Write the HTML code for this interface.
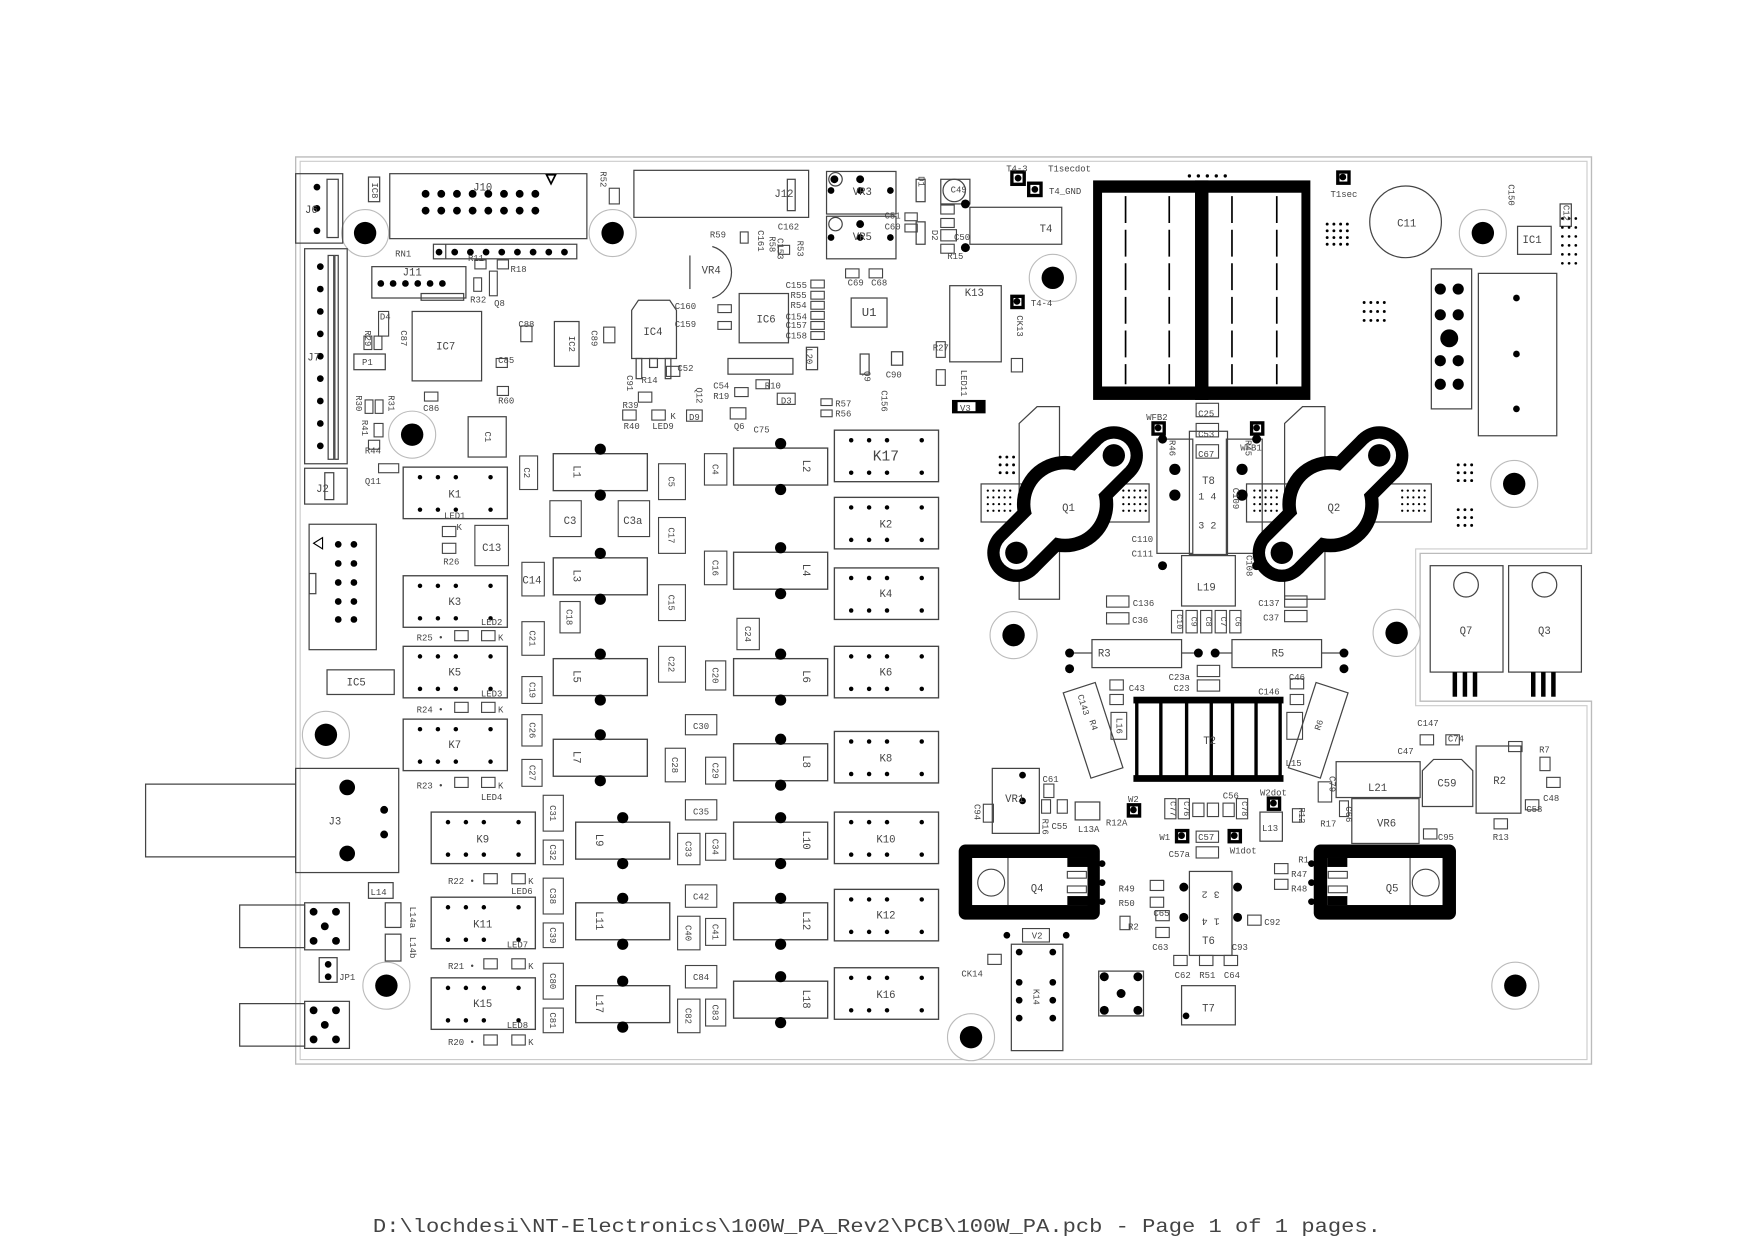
<!DOCTYPE html>
<html><head><meta charset="utf-8"><style>
html,body{margin:0;padding:0;background:#fff;}
svg{display:block;}
text{font-family:"Liberation Mono",monospace;fill:#444;}
</style></head><body>
<svg width="1755" height="1240" viewBox="0 0 1567 1107" xmlns="http://www.w3.org/2000/svg">
<defs>
<g id="relay"><rect x="0" y="0" width="93" height="46" fill="#fff" stroke="#444" stroke-width="1.2"/>
<g fill="#000"><circle cx="15" cy="9" r="2"/><circle cx="31" cy="9" r="2"/><circle cx="47" cy="9" r="2"/><circle cx="78" cy="9" r="2"/><circle cx="15" cy="38" r="2"/><circle cx="31" cy="38" r="2"/><circle cx="47" cy="38" r="2"/><circle cx="78" cy="38" r="2"/></g></g>
<g id="ind"><rect x="0" y="0" width="84" height="33" fill="#fff" stroke="#444" stroke-width="1.2"/><circle cx="42" cy="-4" r="5" fill="#000"/><circle cx="42" cy="37" r="5" fill="#000"/></g>
<g id="hole"><circle r="21" fill="#fff" stroke="#bbb" stroke-width="1"/><circle r="10" fill="#000"/></g>
<g id="qring">
<line x1="-43.5" y1="43.5" x2="43.5" y2="-43.5" stroke="#000" stroke-width="52"/>
<circle r="43" fill="#000"/><circle cx="43.5" cy="-43.5" r="26" fill="#000"/><circle cx="-43.5" cy="43.5" r="26" fill="#000"/>
<line x1="-43.5" y1="43.5" x2="43.5" y2="-43.5" stroke="#fff" stroke-width="30"/>
<circle r="31" fill="#fff"/><circle cx="43.5" cy="-43.5" r="15" fill="#fff"/><circle cx="-43.5" cy="43.5" r="15" fill="#fff"/>
<circle cx="43.5" cy="-43.5" r="10" fill="#000"/><circle cx="-43.5" cy="43.5" r="10" fill="#000"/>
</g>
</defs>
<rect width="1567" height="1107" fill="#fff"/>
<!-- board outline -->
<path d="M264 140 H1421 V494 H1268 V626 H1421 V950 H264 Z" fill="none" stroke="#bbb" stroke-width="1.2"/>
<path d="M268 144 H1417 V490 H1264 V630 H1417 V946 H268 Z" fill="none" stroke="#ccc" stroke-width="1"/>
<!-- holes -->
<use href="#hole" x="326" y="208"/><use href="#hole" x="547" y="208"/><use href="#hole" x="368" y="388"/><use href="#hole" x="291" y="656"/><use href="#hole" x="345" y="880"/><use href="#hole" x="867" y="926"/><use href="#hole" x="905" y="567"/><use href="#hole" x="940" y="248"/><use href="#hole" x="1247" y="565"/><use href="#hole" x="1324" y="208"/><use href="#hole" x="1352" y="432"/><use href="#hole" x="1353" y="880"/>
<g fill="none" stroke="#444" stroke-width="1.1">
<rect x="264" y="155" width="42" height="62"/><rect x="292" y="160" width="10" height="52"/>
<rect x="272" y="222" width="38" height="192"/><rect x="293" y="228" width="5" height="182"/><rect x="299" y="228" width="3" height="182"/>
<rect x="272" y="418" width="38" height="32"/><rect x="290" y="422" width="8" height="24"/>
<rect x="276" y="468" width="60" height="112"/><rect x="276" y="512" width="6" height="18"/>
<rect x="264" y="686" width="92" height="93"/>
<path d="M264 700 H130 V765 H264"/>
<path d="M214 808 H272 V846 H214 Z"/><rect x="272" y="806" width="40" height="42"/>
<path d="M214 896 H272 V934 H214 Z"/><rect x="272" y="894" width="40" height="42"/>
<rect x="285" y="855" width="16" height="22"/>
<rect x="329" y="788" width="22" height="14"/><rect x="344" y="806" width="14" height="22"/><rect x="344" y="834" width="14" height="24"/>
<rect x="329" y="158" width="10" height="22"/>
<rect x="348" y="155" width="176" height="58"/>
<rect x="387" y="218" width="128" height="13"/><line x1="398" y1="218" x2="398" y2="231"/>
<rect x="332" y="238" width="84" height="28"/><rect x="376" y="262" width="38" height="6"/>
<rect x="368" y="278" width="62" height="62"/>
<rect x="316" y="316" width="28" height="14"/>
<rect x="292" y="598" width="60" height="22"/>
<rect x="418" y="372" width="34" height="36"/>
<rect x="566" y="152" width="156" height="42"/><rect x="703" y="160" width="7" height="28"/>
<rect x="495" y="287" width="22" height="40"/>
<path d="M564 277 L570 268 H598 L604 277 V320 H564 Z"/><rect x="568" y="320" width="5" height="18"/><rect x="594" y="320" width="5" height="18"/><rect x="580" y="320" width="7" height="8"/>
<path d="M636 220 A24 24 0 0 1 636 266"/><path d="M616 228 V258"/>
<rect x="660" y="262" width="44" height="44"/>
<rect x="650" y="320" width="58" height="14"/>
<rect x="760" y="266" width="32" height="26"/>
<rect x="738" y="153" width="62" height="38"/><rect x="738" y="193" width="62" height="38"/>
<circle cx="746" cy="160" r="6"/><circle cx="746" cy="200" r="6"/>
<rect x="818" y="160" width="8" height="20"/><rect x="818" y="198" width="8" height="20"/>
<circle cx="852" cy="170" r="10"/><rect x="840" y="160" width="26" height="22"/>
<rect x="866" y="185" width="82" height="33"/>
<rect x="848" y="255" width="46" height="68"/>
<rect x="720" y="310" width="10" height="20"/><rect x="768" y="316" width="8" height="18"/><rect x="796" y="314" width="10" height="12"/>
<circle cx="1255" cy="198" r="32"/>
<rect x="1355" y="202" width="30" height="25"/><rect x="1393" y="182" width="10" height="20"/>
<rect x="1278" y="240" width="36" height="125"/>
<rect x="1320" y="244" width="70" height="145"/>
<rect x="903" y="843" width="46" height="95"/>
<rect x="1055" y="880" width="48" height="35"/>
<rect x="981" y="867" width="40" height="40"/>
<rect x="886" y="686" width="42" height="58"/>
<rect x="1207" y="713" width="60" height="40"/>
<path d="M1270 688 L1280 678 H1305 L1315 688 V720 H1270 Z"/>
<rect x="1318" y="666" width="40" height="60"/>
<rect x="1193" y="680" width="75" height="32"/>
<rect x="1062" y="778" width="38" height="75"/>
<rect x="1062" y="385" width="34" height="110"/>
<rect x="1055" y="496" width="48" height="45"/>
<rect x="1125" y="725" width="20" height="26"/>
<rect x="960" y="716" width="22" height="16"/>
<rect x="1277" y="505" width="65" height="95"/><circle cx="1309" cy="522" r="11"/>
<rect x="1347" y="505" width="65" height="95"/><circle cx="1379" cy="522" r="11"/>
<rect x="975" y="571" width="80" height="25"/><rect x="1100" y="571" width="80" height="25"/>
<line x1="955" y1="583" x2="975" y2="583"/><line x1="1055" y1="583" x2="1070" y2="583"/><line x1="1085" y1="583" x2="1100" y2="583"/><line x1="1180" y1="583" x2="1200" y2="583"/>
<rect x="961" y="612" width="30" height="80" transform="rotate(-18 976 652)"/>
<rect x="1162" y="612" width="30" height="80" transform="rotate(18 1177 652)"/>
<!-- Q flanges -->
<path d="M910 378 L926 363 H946 V535 H910 Z"/><rect x="876" y="432" width="150" height="34"/>
<path d="M1147 378 L1163 363 H1183 V535 H1147 Z"/><rect x="1113" y="432" width="165" height="34"/>
<rect x="1033" y="392" width="32" height="102"/><rect x="1095" y="392" width="32" height="102"/>
</g>
<!-- transformer top -->
<rect x="976" y="161" width="194" height="196" fill="#000"/>
<rect x="984" y="172" width="178" height="173" fill="#fff"/>
<rect x="1067" y="161" width="12" height="196" fill="#000"/>
<g stroke="#000" stroke-width="1.5" stroke-dasharray="24,6"><line x1="1005" y1="175" x2="1005" y2="343"/><line x1="1044" y1="175" x2="1044" y2="343"/><line x1="1100" y1="175" x2="1100" y2="343"/><line x1="1140" y1="175" x2="1140" y2="343"/></g>
<!-- Q1 Q2 -->
<use href="#qring" x="951" y="450"/><use href="#qring" x="1188" y="450"/>
<!-- T2 -->
<rect x="1015" y="625" width="128" height="70" fill="none" stroke="#000" stroke-width="3"/>
<g fill="#000"><rect x="1012" y="622" width="134" height="6"/><rect x="1012" y="692" width="134" height="6"/><rect x="1035" y="625" width="3" height="70"/><rect x="1058" y="625" width="3" height="70"/><rect x="1080" y="625" width="3" height="70"/><rect x="1099" y="625" width="3" height="70"/><rect x="1120" y="625" width="3" height="70"/></g>
<!-- Q4 Q5 -->
<rect x="856" y="754" width="126" height="67" rx="6" fill="#000"/><rect x="868" y="766" width="103" height="42" fill="#fff"/>
<rect x="1173" y="754" width="127" height="67" rx="6" fill="#000"/><rect x="1185" y="766" width="103" height="42" fill="#fff"/>
<g fill="none" stroke="#444"><circle cx="885" cy="788" r="12"/><line x1="900" y1="766" x2="900" y2="808"/><circle cx="1273" cy="788" r="12"/><line x1="1259" y1="766" x2="1259" y2="808"/></g>
<g fill="#000"><rect x="953" y="766" width="18" height="8"/><rect x="953" y="800" width="18" height="8"/><rect x="1185" y="766" width="18" height="8"/><rect x="1185" y="800" width="18" height="8"/>
<circle cx="984" cy="771" r="3"/><circle cx="984" cy="788" r="3"/><circle cx="984" cy="805" r="3"/><circle cx="1171" cy="771" r="3"/><circle cx="1171" cy="788" r="3"/><circle cx="1171" cy="805" r="3"/></g>
<g fill="#fff" stroke="#444"><rect x="953" y="778" width="17" height="6"/><rect x="953" y="791" width="17" height="6"/><rect x="1186" y="778" width="17" height="6"/><rect x="1186" y="791" width="17" height="6"/></g>
<g fill="#000"><rect x="1297" y="600" width="4" height="22"/><rect x="1306" y="600" width="4" height="22"/><rect x="1315" y="600" width="4" height="22"/><rect x="1367" y="600" width="4" height="22"/><rect x="1376" y="600" width="4" height="22"/><rect x="1385" y="600" width="4" height="22"/></g>
<!-- relays -->
<use href="#relay" x="360" y="417"/><use href="#relay" x="360" y="514"/><use href="#relay" x="360" y="577"/><use href="#relay" x="360" y="642"/>
<use href="#relay" x="385" y="725"/><use href="#relay" x="385" y="801"/><use href="#relay" x="385" y="873"/>
<use href="#relay" x="745" y="384"/><use href="#relay" x="745" y="444"/><use href="#relay" x="745" y="507"/><use href="#relay" x="745" y="577"/><use href="#relay" x="745" y="653"/><use href="#relay" x="745" y="725"/><use href="#relay" x="745" y="794"/><use href="#relay" x="745" y="864"/>
<!-- inductors -->
<use href="#ind" x="494" y="405"/><use href="#ind" x="655" y="400"/><use href="#ind" x="494" y="498"/><use href="#ind" x="655" y="493"/><use href="#ind" x="494" y="588"/><use href="#ind" x="655" y="588"/><use href="#ind" x="494" y="660"/><use href="#ind" x="655" y="664"/><use href="#ind" x="514" y="734"/><use href="#ind" x="655" y="734"/><use href="#ind" x="514" y="806"/><use href="#ind" x="655" y="806"/><use href="#ind" x="514" y="880"/><use href="#ind" x="655" y="876"/>
<!-- caps -->
<g fill="none" stroke="#444">
<rect x="464" y="407" width="16" height="30"/><rect x="491" y="447" width="28" height="32"/><rect x="552" y="447" width="28" height="32"/><rect x="588" y="414" width="24" height="32"/><rect x="629" y="405" width="20" height="28"/><rect x="588" y="462" width="24" height="32"/><rect x="424" y="469" width="30" height="36"/><rect x="466" y="502" width="20" height="30"/><rect x="629" y="492" width="20" height="30"/><rect x="588" y="522" width="24" height="32"/><rect x="500" y="537" width="18" height="28"/><rect x="466" y="555" width="20" height="30"/><rect x="658" y="552" width="20" height="28"/><rect x="588" y="577" width="24" height="32"/><rect x="630" y="590" width="18" height="26"/><rect x="466" y="604" width="18" height="24"/><rect x="466" y="638" width="18" height="28"/><rect x="466" y="678" width="18" height="24"/><rect x="612" y="638" width="28" height="18"/><rect x="594" y="668" width="18" height="30"/><rect x="630" y="676" width="18" height="24"/><rect x="485" y="710" width="18" height="32"/><rect x="485" y="750" width="18" height="22"/><rect x="612" y="714" width="28" height="18"/><rect x="605" y="744" width="20" height="28"/><rect x="630" y="744" width="18" height="24"/><rect x="485" y="784" width="18" height="32"/><rect x="485" y="824" width="18" height="22"/><rect x="612" y="790" width="28" height="20"/><rect x="605" y="818" width="20" height="30"/><rect x="630" y="820" width="18" height="24"/><rect x="485" y="860" width="18" height="32"/><rect x="485" y="900" width="18" height="22"/><rect x="612" y="862" width="28" height="20"/><rect x="605" y="892" width="20" height="30"/><rect x="630" y="892" width="18" height="24"/>
<rect x="395" y="470" width="12" height="9"/><rect x="395" y="485" width="12" height="9"/>
<rect x="406" y="563" width="12" height="9"/><rect x="430" y="563" width="12" height="9"/><rect x="406" y="627" width="12" height="9"/><rect x="430" y="627" width="12" height="9"/><rect x="406" y="694" width="12" height="9"/><rect x="430" y="694" width="12" height="9"/><rect x="432" y="780" width="12" height="9"/><rect x="457" y="780" width="12" height="9"/><rect x="432" y="856" width="12" height="9"/><rect x="457" y="856" width="12" height="9"/><rect x="432" y="924" width="12" height="9"/><rect x="457" y="924" width="12" height="9"/>
<rect x="1068" y="360" width="20" height="12"/><rect x="1068" y="378" width="20" height="12"/><rect x="1068" y="397" width="20" height="12"/>
<rect x="988" y="532" width="20" height="10"/><rect x="988" y="547" width="20" height="10"/><rect x="1147" y="532" width="20" height="10"/><rect x="1147" y="545" width="20" height="10"/>
<rect x="1046" y="545" width="10" height="20"/><rect x="1059" y="545" width="10" height="20"/><rect x="1072" y="545" width="10" height="20"/><rect x="1085" y="545" width="10" height="20"/><rect x="1098" y="545" width="10" height="20"/>
<rect x="1069" y="594" width="20" height="10"/><rect x="1069" y="607" width="20" height="10"/>
<rect x="991" y="607" width="12" height="9"/><rect x="991" y="620" width="12" height="9"/><rect x="1152" y="606" width="12" height="9"/><rect x="1152" y="620" width="12" height="9"/>
<rect x="1149" y="636" width="14" height="24"/><rect x="992" y="636" width="14" height="24"/>
<rect x="1040" y="713" width="10" height="18"/><rect x="1052" y="713" width="10" height="18"/><rect x="1065" y="717" width="10" height="12"/><rect x="1078" y="717" width="10" height="12"/><rect x="1092" y="717" width="10" height="12"/><rect x="1104" y="713" width="10" height="18"/>
<rect x="1068" y="742" width="20" height="10"/><rect x="1068" y="756" width="20" height="10"/>
<rect x="1177" y="698" width="12" height="18"/><rect x="1154" y="722" width="8" height="12"/>
<rect x="1114" y="817" width="12" height="9"/><rect x="1048" y="853" width="12" height="9"/><rect x="1071" y="853" width="12" height="9"/><rect x="1093" y="853" width="12" height="9"/>
<rect x="1032" y="813" width="12" height="9"/><rect x="1032" y="828" width="12" height="9"/><rect x="1027" y="786" width="12" height="9"/><rect x="1027" y="801" width="12" height="9"/><rect x="1000" y="818" width="9" height="12"/>
<rect x="1138" y="771" width="12" height="9"/><rect x="1138" y="785" width="12" height="9"/>
<rect x="932" y="700" width="9" height="12"/><rect x="944" y="714" width="9" height="12"/><rect x="930" y="714" width="8" height="12"/><rect x="878" y="718" width="9" height="16"/>
<rect x="882" y="852" width="12" height="9"/><rect x="913" y="829" width="24" height="12"/>
<rect x="1268" y="656" width="12" height="9"/><rect x="1291" y="656" width="12" height="9"/><rect x="1347" y="662" width="12" height="9"/><rect x="1375" y="676" width="9" height="12"/><rect x="1381" y="694" width="12" height="9"/><rect x="1362" y="714" width="12" height="9"/><rect x="1334" y="731" width="12" height="9"/><rect x="1271" y="740" width="12" height="9"/><rect x="1196" y="715" width="8" height="14"/>
<rect x="755" y="240" width="12" height="8"/><rect x="776" y="240" width="12" height="8"/>
<rect x="808" y="190" width="11" height="7"/><rect x="808" y="200" width="11" height="7"/><rect x="840" y="183" width="12" height="8"/><rect x="840" y="195" width="12" height="8"/><rect x="840" y="205" width="14" height="10"/><rect x="840" y="218" width="12" height="8"/>
<rect x="724" y="250" width="12" height="7"/><rect x="724" y="260" width="12" height="7"/><rect x="724" y="269" width="12" height="7"/><rect x="724" y="278" width="12" height="7"/><rect x="724" y="287" width="12" height="7"/><rect x="724" y="296" width="12" height="7"/>
<rect x="641" y="272" width="12" height="7"/><rect x="641" y="287" width="12" height="7"/><rect x="695" y="219" width="10" height="8"/><rect x="656" y="346" width="12" height="8"/><rect x="675" y="339" width="12" height="8"/><rect x="694" y="351" width="16" height="10"/><rect x="613" y="366" width="14" height="10"/><rect x="652" y="364" width="14" height="10"/><rect x="733" y="356" width="10" height="6"/><rect x="733" y="366" width="10" height="6"/>
<rect x="556" y="366" width="12" height="9"/><rect x="582" y="366" width="12" height="9"/><rect x="570" y="350" width="12" height="9"/><rect x="595" y="327" width="12" height="9"/>
<rect x="539" y="292" width="10" height="14"/><rect x="444" y="345" width="10" height="8"/><rect x="379" y="350" width="12" height="8"/><rect x="465" y="291" width="10" height="14"/><rect x="443" y="320" width="10" height="8"/>
<rect x="424" y="232" width="10" height="8"/><rect x="444" y="232" width="10" height="8"/><rect x="423" y="248" width="7" height="12"/><rect x="437" y="242" width="7" height="22"/>
<rect x="338" y="278" width="9" height="22"/><rect x="325" y="300" width="7" height="12"/><rect x="334" y="300" width="7" height="12"/>
<rect x="326" y="357" width="7" height="12"/><rect x="335" y="357" width="7" height="12"/><rect x="334" y="378" width="8" height="12"/><rect x="329" y="393" width="10" height="8"/><rect x="338" y="414" width="18" height="8"/>
<rect x="544" y="168" width="9" height="14"/><rect x="661" y="207" width="7" height="10"/>
<rect x="836" y="330" width="8" height="14"/><rect x="836" y="305" width="8" height="14"/><rect x="903" y="320" width="10" height="12"/>
</g>
<!-- small black pads -->
<g fill="#000">
<rect x="902" y="152" width="14" height="14"/><rect x="917" y="162" width="14" height="14"/><rect x="1193" y="152" width="13" height="13"/><rect x="902" y="263" width="13" height="13"/><rect x="1028" y="376" width="13" height="13"/><rect x="1116" y="376" width="13" height="13"/><rect x="1006" y="717" width="13" height="13"/><rect x="1131" y="711" width="13" height="13"/><rect x="1049" y="740" width="13" height="13"/><rect x="1096" y="740" width="13" height="13"/>
<rect x="850" y="357" width="30" height="12"/>
</g>
<g fill="#fff"><rect x="905" y="155" width="8" height="8"/><rect x="920" y="165" width="8" height="8"/><rect x="1196" y="155" width="7" height="7"/><rect x="905" y="266" width="7" height="7"/><rect x="1031" y="379" width="7" height="7"/><rect x="1119" y="379" width="7" height="7"/><rect x="1009" y="720" width="7" height="7"/><rect x="1134" y="714" width="7" height="7"/><rect x="1052" y="743" width="7" height="7"/><rect x="1099" y="743" width="7" height="7"/><rect x="855" y="359" width="16" height="8"/></g>
<g fill="#000"><circle cx="909" cy="159" r="3"/><circle cx="924" cy="169" r="3"/><circle cx="1199" cy="158" r="3"/><circle cx="908" cy="269" r="3"/><circle cx="1034" cy="382" r="3"/><circle cx="1122" cy="382" r="3"/><circle cx="1012" cy="723" r="3"/><circle cx="1137" cy="717" r="3"/><circle cx="1055" cy="746" r="3"/><circle cx="1102" cy="746" r="3"/></g>
<!-- big black dots -->
<g fill="#000">
<circle cx="380" cy="188" r="3.5"/><circle cx="394" cy="188" r="3.5"/><circle cx="408" cy="188" r="3.5"/><circle cx="422" cy="188" r="3.5"/><circle cx="436" cy="188" r="3.5"/><circle cx="450" cy="188" r="3.5"/><circle cx="464" cy="188" r="3.5"/><circle cx="478" cy="188" r="3.5"/>
<circle cx="380" cy="173" r="3.5"/><circle cx="394" cy="173" r="3.5"/><circle cx="408" cy="173" r="3.5"/><circle cx="422" cy="173" r="3.5"/><circle cx="436" cy="173" r="3.5"/><circle cx="450" cy="173" r="3.5"/><circle cx="464" cy="173" r="3.5"/><circle cx="478" cy="173" r="3.5"/>
<circle cx="392" cy="225" r="3"/><circle cx="406" cy="225" r="3"/><circle cx="420" cy="225" r="3"/><circle cx="434" cy="225" r="3"/><circle cx="448" cy="225" r="3"/><circle cx="462" cy="225" r="3"/><circle cx="476" cy="225" r="3"/><circle cx="490" cy="225" r="3"/><circle cx="504" cy="225" r="3"/>
<circle cx="340" cy="253" r="3"/><circle cx="351" cy="253" r="3"/><circle cx="362" cy="253" r="3"/><circle cx="373" cy="253" r="3"/><circle cx="384" cy="253" r="3"/><circle cx="395" cy="253" r="3"/>
<circle cx="283" cy="167" r="3"/><circle cx="283" cy="186" r="3"/><circle cx="283" cy="206" r="3"/>
<circle cx="286" cy="238" r="3"/><circle cx="286" cy="258" r="3"/><circle cx="286" cy="278" r="3"/><circle cx="286" cy="298" r="3"/><circle cx="286" cy="318" r="3"/><circle cx="286" cy="338" r="3"/><circle cx="286" cy="358" r="3"/><circle cx="286" cy="378" r="3"/><circle cx="286" cy="398" r="3"/>
<circle cx="302" cy="486" r="3"/><circle cx="316" cy="486" r="3"/><circle cx="302" cy="503" r="3"/><circle cx="316" cy="503" r="3"/><circle cx="302" cy="520" r="3"/><circle cx="316" cy="520" r="3"/><circle cx="302" cy="537" r="3"/><circle cx="316" cy="537" r="3"/><circle cx="302" cy="553" r="3"/><circle cx="316" cy="553" r="3"/>
<circle cx="310" cy="703" r="7"/><circle cx="310" cy="762" r="7"/><circle cx="343" cy="723" r="3.5"/><circle cx="343" cy="745" r="3.5"/>
<circle cx="280" cy="814" r="3.5"/><circle cx="300" cy="814" r="3.5"/><circle cx="290" cy="827" r="3.5"/><circle cx="280" cy="840" r="3.5"/><circle cx="300" cy="840" r="3.5"/>
<circle cx="280" cy="902" r="3.5"/><circle cx="300" cy="902" r="3.5"/><circle cx="290" cy="915" r="3.5"/><circle cx="280" cy="928" r="3.5"/><circle cx="300" cy="928" r="3.5"/>
<circle cx="293" cy="861" r="3"/><circle cx="293" cy="872" r="3"/>
<circle cx="745" cy="160" r="3.5"/><circle cx="742" cy="170" r="3"/><circle cx="768" cy="170" r="3"/><circle cx="795" cy="170" r="3"/><circle cx="768" cy="160" r="3.5"/>
<circle cx="742" cy="212" r="3"/><circle cx="768" cy="212" r="3"/><circle cx="795" cy="212" r="3"/><circle cx="768" cy="200" r="3.5"/>
<circle cx="862" cy="182" r="4"/><circle cx="862" cy="221" r="4"/>
<circle cx="1286" cy="258" r="5"/><circle cx="1302" cy="258" r="5"/><circle cx="1286" cy="281" r="5"/><circle cx="1302" cy="281" r="5"/><circle cx="1294" cy="302" r="8"/><circle cx="1286" cy="322" r="5"/><circle cx="1302" cy="322" r="5"/><circle cx="1286" cy="343" r="5"/><circle cx="1302" cy="343" r="5"/>
<circle cx="1354" cy="266" r="3"/><circle cx="1354" cy="316" r="3"/><circle cx="1354" cy="365" r="3"/>
<circle cx="1049" cy="419" r="5"/><circle cx="1049" cy="442" r="5"/><circle cx="1109" cy="419" r="5"/><circle cx="1109" cy="442" r="5"/>
<circle cx="1038" cy="392" r="4"/><circle cx="1122" cy="392" r="4"/><circle cx="1038" cy="505" r="4"/><circle cx="1122" cy="505" r="4"/>
<circle cx="955" cy="583" r="4"/><circle cx="1070" cy="583" r="4"/><circle cx="1085" cy="583" r="4"/><circle cx="1200" cy="583" r="4"/><circle cx="955" cy="597" r="4"/><circle cx="1200" cy="597" r="4"/>
<circle cx="1057" cy="792" r="4"/><circle cx="1105" cy="792" r="4"/><circle cx="1057" cy="819" r="4"/><circle cx="1105" cy="819" r="4"/>
<circle cx="986" cy="872" r="4"/><circle cx="1016" cy="872" r="4"/><circle cx="1001" cy="887" r="4"/><circle cx="986" cy="902" r="4"/><circle cx="1016" cy="902" r="4"/>
<circle cx="1059" cy="907" r="3"/>
<circle cx="910" cy="850" r="3"/><circle cx="940" cy="850" r="3"/><circle cx="910" cy="877" r="3"/><circle cx="940" cy="877" r="3"/><circle cx="910" cy="893" r="3"/><circle cx="940" cy="893" r="3"/><circle cx="910" cy="909" r="3"/><circle cx="940" cy="909" r="3"/>
<circle cx="899" cy="835" r="3"/><circle cx="952" cy="835" r="3"/>
<circle cx="913" cy="692" r="3"/><circle cx="913" cy="715" r="3"/>
<circle cx="1062" cy="157" r="1.5"/><circle cx="1070" cy="157" r="1.5"/><circle cx="1078" cy="157" r="1.5"/><circle cx="1086" cy="157" r="1.5"/><circle cx="1094" cy="157" r="1.5"/>
</g>
<!-- dotted pad arrays -->
<g fill="#000">
<g transform="translate(1185,200)"><circle cx="0" cy="0" r="1.3"/><circle cx="6" cy="0" r="1.3"/><circle cx="12" cy="0" r="1.3"/><circle cx="18" cy="0" r="1.3"/><circle cx="0" cy="6" r="1.3"/><circle cx="6" cy="6" r="1.3"/><circle cx="12" cy="6" r="1.3"/><circle cx="18" cy="6" r="1.3"/><circle cx="0" cy="12" r="1.3"/><circle cx="6" cy="12" r="1.3"/><circle cx="12" cy="12" r="1.3"/><circle cx="18" cy="12" r="1.3"/><circle cx="0" cy="18" r="1.3"/><circle cx="6" cy="18" r="1.3"/><circle cx="12" cy="18" r="1.3"/><circle cx="18" cy="18" r="1.3"/></g>
<g transform="translate(1218,270)"><circle cx="0" cy="0" r="1.3"/><circle cx="6" cy="0" r="1.3"/><circle cx="12" cy="0" r="1.3"/><circle cx="18" cy="0" r="1.3"/><circle cx="0" cy="8" r="1.3"/><circle cx="6" cy="8" r="1.3"/><circle cx="12" cy="8" r="1.3"/><circle cx="18" cy="8" r="1.3"/><circle cx="0" cy="16" r="1.3"/><circle cx="6" cy="16" r="1.3"/><circle cx="12" cy="16" r="1.3"/><circle cx="18" cy="16" r="1.3"/></g>
<g transform="translate(893,408)"><circle cx="0" cy="0" r="1.3"/><circle cx="6" cy="0" r="1.3"/><circle cx="12" cy="0" r="1.3"/><circle cx="0" cy="7" r="1.3"/><circle cx="6" cy="7" r="1.3"/><circle cx="12" cy="7" r="1.3"/><circle cx="0" cy="14" r="1.3"/><circle cx="6" cy="14" r="1.3"/><circle cx="12" cy="14" r="1.3"/></g>
<g transform="translate(1302,415)"><circle cx="0" cy="0" r="1.3"/><circle cx="6" cy="0" r="1.3"/><circle cx="12" cy="0" r="1.3"/><circle cx="0" cy="7" r="1.3"/><circle cx="6" cy="7" r="1.3"/><circle cx="12" cy="7" r="1.3"/><circle cx="0" cy="14" r="1.3"/><circle cx="6" cy="14" r="1.3"/><circle cx="12" cy="14" r="1.3"/></g>
<g transform="translate(1302,455)"><circle cx="0" cy="0" r="1.3"/><circle cx="6" cy="0" r="1.3"/><circle cx="12" cy="0" r="1.3"/><circle cx="0" cy="7" r="1.3"/><circle cx="6" cy="7" r="1.3"/><circle cx="12" cy="7" r="1.3"/><circle cx="0" cy="14" r="1.3"/><circle cx="6" cy="14" r="1.3"/><circle cx="12" cy="14" r="1.3"/></g>
<g transform="translate(1395,195)"><circle cx="0" cy="0" r="1.2"/><circle cx="6" cy="0" r="1.2"/><circle cx="12" cy="0" r="1.2"/><circle cx="0" cy="8" r="1.2"/><circle cx="6" cy="8" r="1.2"/><circle cx="12" cy="8" r="1.2"/><circle cx="0" cy="16" r="1.2"/><circle cx="6" cy="16" r="1.2"/><circle cx="12" cy="16" r="1.2"/><circle cx="0" cy="24" r="1.2"/><circle cx="6" cy="24" r="1.2"/><circle cx="12" cy="24" r="1.2"/><circle cx="0" cy="32" r="1.2"/><circle cx="6" cy="32" r="1.2"/><circle cx="12" cy="32" r="1.2"/><circle cx="0" cy="40" r="1.2"/><circle cx="6" cy="40" r="1.2"/><circle cx="12" cy="40" r="1.2"/></g>
<g transform="translate(882,438)"><circle cx="0" cy="0" r="1"/><circle cx="5" cy="0" r="1"/><circle cx="10" cy="0" r="1"/><circle cx="15" cy="0" r="1"/><circle cx="20" cy="0" r="1"/><circle cx="0" cy="6" r="1"/><circle cx="5" cy="6" r="1"/><circle cx="10" cy="6" r="1"/><circle cx="15" cy="6" r="1"/><circle cx="20" cy="6" r="1"/><circle cx="0" cy="12" r="1"/><circle cx="5" cy="12" r="1"/><circle cx="10" cy="12" r="1"/><circle cx="15" cy="12" r="1"/><circle cx="20" cy="12" r="1"/><circle cx="0" cy="18" r="1"/><circle cx="5" cy="18" r="1"/><circle cx="10" cy="18" r="1"/><circle cx="15" cy="18" r="1"/><circle cx="20" cy="18" r="1"/></g>
<g transform="translate(1003,438)"><circle cx="0" cy="0" r="1"/><circle cx="5" cy="0" r="1"/><circle cx="10" cy="0" r="1"/><circle cx="15" cy="0" r="1"/><circle cx="20" cy="0" r="1"/><circle cx="0" cy="6" r="1"/><circle cx="5" cy="6" r="1"/><circle cx="10" cy="6" r="1"/><circle cx="15" cy="6" r="1"/><circle cx="20" cy="6" r="1"/><circle cx="0" cy="12" r="1"/><circle cx="5" cy="12" r="1"/><circle cx="10" cy="12" r="1"/><circle cx="15" cy="12" r="1"/><circle cx="20" cy="12" r="1"/><circle cx="0" cy="18" r="1"/><circle cx="5" cy="18" r="1"/><circle cx="10" cy="18" r="1"/><circle cx="15" cy="18" r="1"/><circle cx="20" cy="18" r="1"/></g>
<g transform="translate(1120,438)"><circle cx="0" cy="0" r="1"/><circle cx="5" cy="0" r="1"/><circle cx="10" cy="0" r="1"/><circle cx="15" cy="0" r="1"/><circle cx="20" cy="0" r="1"/><circle cx="0" cy="6" r="1"/><circle cx="5" cy="6" r="1"/><circle cx="10" cy="6" r="1"/><circle cx="15" cy="6" r="1"/><circle cx="20" cy="6" r="1"/><circle cx="0" cy="12" r="1"/><circle cx="5" cy="12" r="1"/><circle cx="10" cy="12" r="1"/><circle cx="15" cy="12" r="1"/><circle cx="20" cy="12" r="1"/><circle cx="0" cy="18" r="1"/><circle cx="5" cy="18" r="1"/><circle cx="10" cy="18" r="1"/><circle cx="15" cy="18" r="1"/><circle cx="20" cy="18" r="1"/></g>
<g transform="translate(1252,438)"><circle cx="0" cy="0" r="1"/><circle cx="5" cy="0" r="1"/><circle cx="10" cy="0" r="1"/><circle cx="15" cy="0" r="1"/><circle cx="20" cy="0" r="1"/><circle cx="0" cy="6" r="1"/><circle cx="5" cy="6" r="1"/><circle cx="10" cy="6" r="1"/><circle cx="15" cy="6" r="1"/><circle cx="20" cy="6" r="1"/><circle cx="0" cy="12" r="1"/><circle cx="5" cy="12" r="1"/><circle cx="10" cy="12" r="1"/><circle cx="15" cy="12" r="1"/><circle cx="20" cy="12" r="1"/><circle cx="0" cy="18" r="1"/><circle cx="5" cy="18" r="1"/><circle cx="10" cy="18" r="1"/><circle cx="15" cy="18" r="1"/><circle cx="20" cy="18" r="1"/></g>
</g>
<polygon points="488,156 496,156 492,164" fill="none" stroke="#000" stroke-width="1.5"/>
<polygon points="280,485 288,480 288,490" fill="none" stroke="#000"/>
<!-- labels -->
<g font-size="9.5" text-anchor="middle">
<text x="406" y="444">K1</text><text x="406" y="540">K3</text><text x="406" y="603">K5</text><text x="406" y="668">K7</text><text x="431" y="752">K9</text><text x="431" y="828">K11</text><text x="431" y="899">K15</text>
<text x="791" y="411" font-size="13">K17</text><text x="791" y="471">K2</text><text x="791" y="533">K4</text><text x="791" y="603">K6</text><text x="791" y="680">K8</text><text x="791" y="752">K10</text><text x="791" y="820">K12</text><text x="791" y="891">K16</text>
<text x="954" y="456">Q1</text><text x="1191" y="456">Q2</text><text x="1309" y="566">Q7</text><text x="1379" y="566">Q3</text><text x="926" y="796">Q4</text><text x="1243" y="796">Q5</text>
<text x="1080" y="664">T2</text><text x="1079" y="432">T8</text><text x="1079" y="843">T6</text><text x="1079" y="903">T7</text><text x="934" y="207">T4</text>
<text x="986" y="586">R3</text><text x="1141" y="586">R5</text><text x="299" y="736">J3</text><text x="278" y="190">J6</text><text x="280" y="322">J7</text><text x="288" y="439">J2</text>
<text x="431" y="170">J10</text><text x="368" y="246">J11</text><text x="700" y="176">J12</text><text x="398" y="312">IC7</text><text x="583" y="299">IC4</text><text x="684" y="288">IC6</text><text x="318" y="612">IC5</text><text x="1368" y="217">IC1</text>
<text x="770" y="214">VR5</text><text x="770" y="174">VR3</text><text x="635" y="244">VR4</text><text x="906" y="716">VR1</text><text x="1238" y="738">VR6</text>
<text x="1256" y="202">C11</text><text x="1292" y="702">C59</text><text x="1339" y="700">R2</text><text x="1230" y="706">L21</text><text x="1077" y="527">L19</text>
<text x="509" y="468">C3</text><text x="565" y="468">C3a</text><text x="439" y="492">C13</text><text x="475" y="521">C14</text><text x="870" y="264">K13</text>
<text x="338" y="799" font-size="8">L14</text><text x="310" y="875" font-size="8">JP1</text><text x="1117" y="402" font-size="8">WFB1</text><text x="1033" y="375" font-size="8">WFB2</text>
<text x="868" y="872" font-size="8">CK14</text><text x="972" y="743" font-size="8">L13A</text><text x="1134" y="742" font-size="8">L13</text><text x="1200" y="176" font-size="8">T1sec</text>
<text x="908" y="153" font-size="8">T4-3</text><text x="955" y="153" font-size="8">T1secdot</text><text x="951" y="173" font-size="8">T4_GND</text><text x="930" y="273" font-size="8">T4-4</text>
<text x="926" y="838" font-size="8">V2</text><text x="862" y="367" font-size="8">V3</text><text x="1137" y="710" font-size="8">W2dot</text><text x="1040" y="750" font-size="8">W1</text><text x="1110" y="762" font-size="8">W1dot</text><text x="1012" y="716" font-size="8">W2</text>
<text x="1077" y="372" font-size="8">C25</text><text x="1077" y="390" font-size="8">C53</text><text x="1077" y="408" font-size="8">C67</text>
<text x="1078" y="446" font-size="9">1   4</text><text x="1078" y="472" font-size="9">3   2</text>
<text transform="translate(1081,796) rotate(180)" font-size="9">3  2</text><text transform="translate(1081,820) rotate(180)" font-size="9">1  4</text>
<text x="1021" y="541" font-size="8">C136</text><text x="1018" y="556" font-size="8">C36</text><text x="1133" y="541" font-size="8">C137</text><text x="1135" y="554" font-size="8">C37</text>
<text x="1053" y="607" font-size="8">C23a</text><text x="1055" y="617" font-size="8">C23</text><text x="1015" y="617" font-size="8">C43</text><text x="1158" y="607" font-size="8">C46</text><text x="1133" y="620" font-size="8">C146</text>
<text x="1020" y="484" font-size="8">C110</text><text x="1020" y="497" font-size="8">C111</text><text x="1155" y="684" font-size="8">L15</text><text x="1053" y="765" font-size="8">C57a</text><text x="1077" y="750" font-size="8">C57</text>
<text x="1099" y="713" font-size="8">C56</text><text x="1056" y="873" font-size="8">C62</text><text x="1078" y="873" font-size="8">R51</text><text x="1100" y="873" font-size="8">C64</text><text x="1136" y="826" font-size="8">C92</text><text x="1107" y="848" font-size="8">C93</text>
<text x="1006" y="796" font-size="8">R49</text><text x="1006" y="809" font-size="8">R50</text><text x="1012" y="830" font-size="8">R2</text><text x="1036" y="848" font-size="8">C63</text><text x="1037" y="818" font-size="8">C65</text>
<text x="1160" y="783" font-size="8">R47</text><text x="1160" y="796" font-size="8">R48</text><text x="1164" y="770" font-size="8">R1</text><text x="1186" y="738" font-size="8">R17</text><text x="1291" y="750" font-size="8">C95</text>
<text x="1275" y="648" font-size="8">C147</text><text x="1300" y="662" font-size="8">C74</text><text x="1255" y="673" font-size="8">C47</text><text x="1379" y="672" font-size="8">R7</text><text x="1385" y="715" font-size="8">C48</text><text x="1370" y="725" font-size="8">C58</text><text x="1340" y="750" font-size="8">R13</text>
<text x="938" y="698" font-size="8">C61</text><text x="946" y="740" font-size="8">C55</text><text x="997" y="737" font-size="8">R12A</text>
<text x="410" y="473" font-size="8">K</text><text x="403" y="504" font-size="8">R26</text><text x="406" y="463" font-size="8">LED1</text>
<text x="384" y="572" font-size="8">R25 •</text><text x="447" y="572" font-size="8">K</text><text x="439" y="558" font-size="8">LED2</text>
<text x="384" y="636" font-size="8">R24 •</text><text x="447" y="636" font-size="8">K</text><text x="439" y="622" font-size="8">LED3</text>
<text x="384" y="704" font-size="8">R23 •</text><text x="447" y="704" font-size="8">K</text><text x="439" y="714" font-size="8">LED4</text>
<text x="412" y="789" font-size="8">R22 •</text><text x="474" y="789" font-size="8">K</text><text x="466" y="798" font-size="8">LED6</text>
<text x="412" y="865" font-size="8">R21 •</text><text x="474" y="865" font-size="8">K</text><text x="462" y="846" font-size="8">LED7</text>
<text x="412" y="933" font-size="8">R20 •</text><text x="474" y="933" font-size="8">K</text><text x="462" y="918" font-size="8">LED8</text>
<text x="360" y="229" font-size="8">RN1</text><text x="425" y="233" font-size="8">R11</text><text x="463" y="243" font-size="8">R18</text><text x="427" y="270" font-size="8">R32</text><text x="446" y="273" font-size="8">Q8</text>
<text x="470" y="292" font-size="8">C88</text><text x="452" y="324" font-size="8">C85</text><text x="452" y="360" font-size="8">R60</text><text x="385" y="367" font-size="8">C86</text><text x="328" y="326" font-size="8">P1</text><text x="344" y="285" font-size="8">D4</text>
<text x="333" y="405" font-size="8">R44</text><text x="333" y="432" font-size="8">Q11</text>
<text x="641" y="212" font-size="8">R59</text><text x="704" y="205" font-size="8">C162</text><text x="612" y="276" font-size="8">C160</text><text x="612" y="292" font-size="8">C159</text><text x="580" y="342" font-size="8">R14</text><text x="612" y="331" font-size="8">C52</text>
<text x="563" y="364" font-size="8">R39</text><text x="564" y="383" font-size="8">R40</text><text x="592" y="383" font-size="8">LED9</text><text x="601" y="374" font-size="8">K</text><text x="620" y="375" font-size="8">D9</text><text x="644" y="347" font-size="8">C54</text><text x="644" y="356" font-size="8">R19</text><text x="690" y="347" font-size="8">R10</text><text x="702" y="360" font-size="8">D3</text><text x="660" y="383" font-size="8">Q6</text><text x="680" y="386" font-size="8">C75</text><text x="753" y="363" font-size="8">R57</text><text x="753" y="372" font-size="8">R56</text>
<text x="711" y="257" font-size="8">C155</text><text x="713" y="266" font-size="8">R55</text><text x="713" y="275" font-size="8">R54</text><text x="711" y="285" font-size="8">C154</text><text x="711" y="293" font-size="8">C157</text><text x="711" y="302" font-size="8">C158</text>
<text x="776" y="282" font-size="11">U1</text><text x="764" y="255" font-size="8">C69</text><text x="785" y="255" font-size="8">C68</text><text x="798" y="337" font-size="8">C90</text><text x="840" y="313" font-size="8">R27</text>
<text x="797" y="195" font-size="8">C51</text><text x="797" y="205" font-size="8">C60</text><text x="859" y="214" font-size="8">C50</text><text x="853" y="231" font-size="8">R15</text><text x="856" y="172" font-size="8">C49</text>
</g>
<g font-size="9.5" text-anchor="middle">
<text transform="translate(512,421) rotate(90)">L1</text><text transform="translate(717,416) rotate(90)">L2</text><text transform="translate(512,514) rotate(90)">L3</text><text transform="translate(717,509) rotate(90)">L4</text><text transform="translate(512,604) rotate(90)">L5</text><text transform="translate(717,604) rotate(90)">L6</text><text transform="translate(512,676) rotate(90)">L7</text><text transform="translate(717,680) rotate(90)">L8</text><text transform="translate(532,750) rotate(90)">L9</text><text transform="translate(717,750) rotate(90)">L10</text><text transform="translate(532,822) rotate(90)">L11</text><text transform="translate(717,822) rotate(90)">L12</text><text transform="translate(532,896) rotate(90)">L17</text><text transform="translate(717,892) rotate(90)">L18</text>
<text transform="translate(468,422) rotate(90)" font-size="8">C2</text><text transform="translate(636,419) rotate(90)" font-size="8">C4</text><text transform="translate(597,430) rotate(90)" font-size="8">C5</text><text transform="translate(597,478) rotate(90)" font-size="8">C17</text><text transform="translate(636,507) rotate(90)" font-size="8">C16</text><text transform="translate(597,538) rotate(90)" font-size="8">C15</text><text transform="translate(506,551) rotate(90)" font-size="8">C18</text><text transform="translate(473,570) rotate(90)" font-size="8">C21</text><text transform="translate(665,566) rotate(90)" font-size="8">C24</text><text transform="translate(597,593) rotate(90)" font-size="8">C22</text><text transform="translate(636,603) rotate(90)" font-size="8">C20</text><text transform="translate(473,616) rotate(90)" font-size="8">C19</text><text transform="translate(473,652) rotate(90)" font-size="8">C26</text><text transform="translate(473,690) rotate(90)" font-size="8">C27</text><text transform="translate(600,683) rotate(90)" font-size="8">C28</text><text transform="translate(636,688) rotate(90)" font-size="8">C29</text><text transform="translate(491,726) rotate(90)" font-size="8">C31</text><text transform="translate(491,761) rotate(90)" font-size="8">C32</text><text transform="translate(612,758) rotate(90)" font-size="8">C33</text><text transform="translate(636,756) rotate(90)" font-size="8">C34</text><text transform="translate(491,800) rotate(90)" font-size="8">C38</text><text transform="translate(491,835) rotate(90)" font-size="8">C39</text><text transform="translate(612,833) rotate(90)" font-size="8">C40</text><text transform="translate(636,832) rotate(90)" font-size="8">C41</text><text transform="translate(491,876) rotate(90)" font-size="8">C80</text><text transform="translate(491,911) rotate(90)" font-size="8">C81</text><text transform="translate(612,907) rotate(90)" font-size="8">C82</text><text transform="translate(636,904) rotate(90)" font-size="8">C83</text>
<text x="626" y="651" font-size="8">C30</text><text x="626" y="727" font-size="8">C35</text><text x="626" y="803" font-size="8">C42</text><text x="626" y="875" font-size="8">C84</text>
<text transform="translate(433,390) rotate(90)" font-size="8">C1</text><text transform="translate(508,307) rotate(90)" font-size="8">IC2</text><text transform="translate(332,170) rotate(90)" font-size="8">IC8</text><text transform="translate(536,160) rotate(90)" font-size="8">R52</text>
<text transform="translate(923,890) rotate(90)" font-size="8">K14</text><text transform="translate(974,648) rotate(72)" font-size="8">R4</text><text transform="translate(1180,648) rotate(-72)" font-size="8">R6</text><text transform="translate(965,630) rotate(72)" font-size="8">C143</text><text transform="translate(997,648) rotate(90)" font-size="8">L16</text>
<text transform="translate(1044,400) rotate(90)" font-size="8">R46</text><text transform="translate(1112,400) rotate(90)" font-size="8">R45</text><text transform="translate(1101,445) rotate(90)" font-size="8">C109</text><text transform="translate(1113,505) rotate(90)" font-size="8">C108</text>
<text transform="translate(1051,555) rotate(90)" font-size="7.5">C10</text><text transform="translate(1064,555) rotate(90)" font-size="7.5">C9</text><text transform="translate(1077,555) rotate(90)" font-size="7.5">C8</text><text transform="translate(1090,555) rotate(90)" font-size="7.5">C7</text><text transform="translate(1103,555) rotate(90)" font-size="7.5">C6</text>
<text transform="translate(1045,722) rotate(90)" font-size="7.5">C77</text><text transform="translate(1057,722) rotate(90)" font-size="7.5">C76</text><text transform="translate(1109,722) rotate(90)" font-size="7.5">C78</text>
<text transform="translate(908,291) rotate(90)" font-size="8">CK13</text><text transform="translate(858,342) rotate(90)" font-size="8">LED11</text><text transform="translate(931,738) rotate(90)" font-size="8">R16</text><text transform="translate(870,725) rotate(90)" font-size="8">C94</text><text transform="translate(1160,728) rotate(90)" font-size="8">R12</text><text transform="translate(1202,727) rotate(90)" font-size="8">C66</text><text transform="translate(1187,700) rotate(90)" font-size="8">C79</text>
<text transform="translate(366,819) rotate(90)" font-size="8">L14a</text><text transform="translate(366,846) rotate(90)" font-size="8">L14b</text><text transform="translate(720,318) rotate(90)" font-size="8">L20</text><text transform="translate(1347,174) rotate(90)" font-size="8">C150</text><text transform="translate(1396,190) rotate(90)" font-size="8">C12</text>
<text transform="translate(318,360) rotate(90)" font-size="8">R30</text><text transform="translate(347,360) rotate(90)" font-size="8">R31</text><text transform="translate(323,382) rotate(90)" font-size="8">R41</text><text transform="translate(326,302) rotate(90)" font-size="8">R29</text><text transform="translate(358,302) rotate(90)" font-size="8">C87</text>
<text transform="translate(528,302) rotate(90)" font-size="8">C89</text><text transform="translate(560,342) rotate(90)" font-size="8">C91</text><text transform="translate(622,353) rotate(90)" font-size="8">Q12</text><text transform="translate(772,336) rotate(90)" font-size="8">Q9</text><text transform="translate(787,358) rotate(90)" font-size="8">C156</text>
<text transform="translate(677,215) rotate(90)" font-size="8">C161</text><text transform="translate(687,218) rotate(90)" font-size="8">R58</text><text transform="translate(712,222) rotate(90)" font-size="8">R53</text><text transform="translate(694,222) rotate(90)" font-size="8">C153</text>
<text transform="translate(820,162) rotate(90)" font-size="8">D1</text><text transform="translate(832,210) rotate(90)" font-size="8">D2</text>
</g>
<text x="333" y="1100" font-size="17" textLength="900" lengthAdjust="spacingAndGlyphs" fill="#333">D:\lochdesi\NT-Electronics\100W_PA_Rev2\PCB\100W_PA.pcb - Page 1 of 1 pages.</text>
</svg>
</body></html>
